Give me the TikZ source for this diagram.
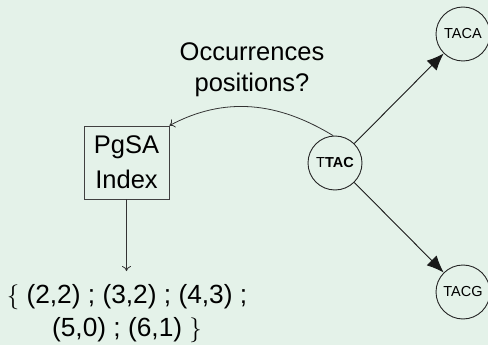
\documentclass[tikz,border=0pt]{standalone}
\usepackage{fontspec}
\setmainfont{Liberation Sans}
\usetikzlibrary{arrows.meta}
\definecolor{bg}{RGB}{228,242,233}
\begin{document}
\begin{tikzpicture}[x=1pt,y=-1pt,
  circ/.style={circle,draw=black!85,line width=0.9pt,minimum size=54pt,inner sep=0pt,font=\fontsize{14.5}{17}\selectfont},
  box/.style={draw=black!75,line width=0.9pt,minimum width=85pt,minimum height=73pt,align=center,font=\fontsize{25.5}{35}\selectfont,inner sep=0pt},
  txt/.style={align=center,inner sep=0pt},
  big/.style={-{Latex[length=17pt,width=14pt]},line width=0.9pt,draw=black!90},
  thin/.style={-{To[length=5pt,width=9pt]},line width=0.8pt,draw=black!80}
]
\fill[bg] (0,0) rectangle (488,345);
\useasboundingbox (0,0) rectangle (488,345);
\node[circ] (ttac) at (335,163) {T\textbf{TAC}};
\node[circ] (taca) at (463,34) {TACA};
\node[circ] (tacg) at (463,292) {TACG};
\node[box] (idx) at (126.5,162.5) {PgSA\\Index};
\node[txt,font=\fontsize{26.3}{33}\selectfont] (set) at (127,314) {$\{$ (2,2) ; (3,2) ; (4,3) ;\\(5,0) ; (6,1) $\}$};
\node[txt,font=\fontsize{25.5}{31}\selectfont] (lbl) at (252,70) {Occurrences\\positions?};
\coordinate (setin) at (126.5,271);
\draw[big] (ttac) -- (taca);
\draw[big] (ttac) -- (tacg);
\draw[thin] (ttac.94) .. controls (278,102) and (225,96) .. (idx.north east);
\draw[thin] (idx.south) -- (setin);
\end{tikzpicture}
\end{document}
